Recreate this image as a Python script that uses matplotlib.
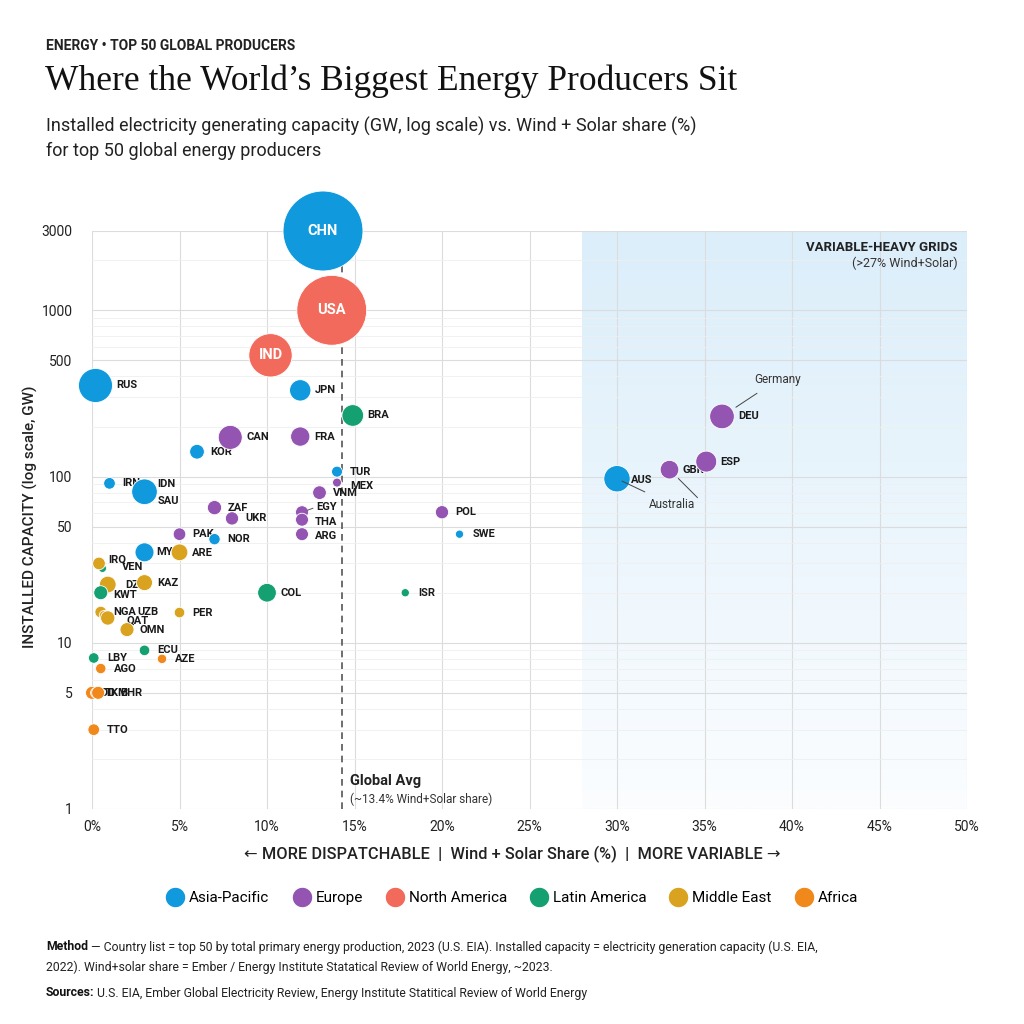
import numpy as np
import matplotlib.pyplot as plt
from matplotlib.colors import LinearSegmentedColormap
from matplotlib.lines import Line2D
from matplotlib.ticker import NullFormatter, LogLocator

plt.rcParams['font.family'] = ['Roboto', 'DejaVu Sans']

# Data
codes = ['CHN', 'USA', 'IND', 'RUS', 'JPN', 'BRA', 'CAN', 'FRA', 'KOR', 'TUR',
         'MEX', 'VNM', 'IRN', 'SAU', 'IDN', 'ZAF', 'UKR', 'EGY', 'THA', 'ARG',
         'POL', 'SWE', 'PAK', 'NOR', 'MYS', 'ARE', 'VEN', 'IRQ', 'DZA', 'KAZ',
         'KWT', 'COL', 'ISR', 'NGA', 'UZB', 'QAT', 'OMN', 'PER', 'LBY', 'AGO',
         'ECU', 'AZE', 'COD', 'BHR', 'TKM', 'TTO', 'DEU', 'ESP', 'GBR', 'AUS']
wind_solar = [13.2, 13.7, 10.2, 0.2, 11.9, 14.9, 7.9, 11.9, 6.0, 14.0,
              14.0, 13.0, 1.0, 3.0, 3.0, 7.0, 8.0, 12.0, 12.0, 12.0,
              20.0, 21.0, 5.0, 7.0, 3.0, 5.0, 0.6, 0.4, 0.9, 3.0,
              0.5, 10.0, 17.9, 0.5, 0.7, 0.9, 2.0, 5.0, 0.1, 0.5,
              3.0, 4.0, 0.0, 0.2, 0.35, 0.1, 36.0, 35.1, 33.0, 30.0]
capacity_gw = [3000, 1000, 536, 353, 330, 233, 172, 174, 141, 107,
               92, 80, 91, 80, 81, 65, 56, 61, 55, 45,
               61, 45, 45, 42, 35, 35, 28, 30, 22.4, 23,
               20, 20, 20, 15.3, 14.6, 14.1, 12.0, 15.2, 8.1, 7.0,
               9.0, 8.0, 5.0, 5.0, 5.0, 3.0, 230, 123, 110, 97]
production = [160, 122, 47, 29, 11.4, 11.7, 14.4, 9.3, 5.4, 3.0,
              2.0, 4.7, 3.4, 9.0, 16.4, 5.1, 4.4, 4.2, 4.2, 4.2,
              4.4, 1.7, 4.0, 3.2, 9.0, 7.0, 1.6, 4.0, 7.0, 6.4,
              4.9, 8.7, 1.7, 3.4, 2.5, 5.1, 4.9, 2.8, 2.8, 2.7,
              2.8, 2.2, 4.2, 2.5, 4.2, 3.4, 15.2, 11.0, 8.7, 17.4]
regions = ['AP', 'NA', 'NA', 'AP', 'AP', 'LA', 'EU', 'EU', 'AP', 'AP',
           'EU', 'EU', 'AP', 'ME', 'AP', 'EU', 'EU', 'EU', 'EU', 'EU',
           'EU', 'AP', 'EU', 'AP', 'AP', 'ME', 'LA', 'ME', 'ME', 'ME',
           'LA', 'LA', 'LA', 'ME', 'ME', 'ME', 'ME', 'ME', 'LA', 'AF',
           'LA', 'AF', 'AF', 'AF', 'AF', 'AF', 'EU', 'EU', 'EU', 'AP']

region_names = {'AP': 'Asia-Pacific', 'EU': 'Europe', 'NA': 'North America',
                'LA': 'Latin America', 'ME': 'Middle East', 'AF': 'Africa'}
region_colors = {'AP': '#1199de', 'EU': '#9455b2', 'NA': '#f26a5b',
                 'LA': '#14a071', 'ME': '#d9a31f', 'AF': '#f0881c'}

global_avg = 14.3

# label tweaks (pixel offsets from dot centre, image y down)
label_offsets = {
    'IDN': (13, -8), 'SAU': (13, 8), 'IRQ': (9, -4), 'VEN': (19, -1),
    'DZA': (17, 0), 'KWT': (12, 2), 'NGA': (12, 0), 'UZB': (33, -3),
    'QAT': (19, 3), 'COD': (1, 0), 'TKM': (7, 0), 'BHR': (25, 0),
    'EGY': (14, -5), 'THA': (13, 2), 'ARG': (13, 2), 'MEX': (13, 3),
    'ARE': (12, 1), 'AUS': (14, 1), 'MYS': (12, 0),
}
inside = ['CHN', 'USA', 'IND']

PX = 0.72  # points per pixel at dpi 100

fig = plt.figure(figsize=(10.24, 10.24), dpi=100)
ax = fig.add_axes([92 / 1024, 1 - 809 / 1024, 875 / 1024, 578 / 1024])

ax.set_yscale('log')

# shaded "variable-heavy" zone
cmap = LinearSegmentedColormap.from_list('shade', ['#dbeefa', '#fbfdff'])
grad = np.linspace(0, 1, 256).reshape(-1, 1)
ax.imshow(grad, extent=(28, 50, 0, 1), transform=ax.get_xaxis_transform(),
          aspect='auto', cmap=cmap, origin='upper', zorder=0)

ax.set_xlim(0, 50)
ax.set_ylim(1, 3000)

ax.set_xticks(np.arange(0, 51, 5))
ax.set_xticklabels([f'{v}%' for v in range(0, 51, 5)])
yt = [1, 5, 10, 50, 100, 500, 1000, 3000]
ax.set_yticks(yt)
ax.set_yticklabels([str(v) for v in yt])
ax.yaxis.set_minor_locator(LogLocator(base=10, subs=np.arange(2, 10)))
ax.yaxis.set_minor_formatter(NullFormatter())
ax.tick_params(axis='both', which='both', length=0, labelsize=10, colors='#222222')
ax.tick_params(axis='x', pad=8)
ax.tick_params(axis='y', pad=14)
ax.grid(True, which='major', color='#dcdcdc', lw=0.8, zorder=0)
ax.grid(True, which='minor', axis='y', color='#efefef', lw=0.6, zorder=0)
ax.set_axisbelow(True)
for s in ax.spines.values():
    s.set_visible(False)

# global average line
ax.axvline(global_avg, color='#555555', lw=1.2, ls=(0, (4, 3)), zorder=1)
ax.text(global_avg + 0.45, 1.47, 'Global Avg', fontsize=10.5, weight='bold',
        color='#222222', va='center', ha='left')
ax.text(global_avg + 0.45, 1.15, '(~13.4% Wind+Solar share)', fontsize=8.5,
        color='#333333', va='center', ha='left')

ax.text(49.45, 2400, 'VARIABLE-HEAVY GRIDS', fontsize=9.5, weight='bold',
        color='#222222', ha='right', va='center')
ax.text(49.45, 1920, '(>27% Wind+Solar)', fontsize=9, color='#333333',
        ha='right', va='center')

# bubbles
sizes = [p * 20.7 for p in production]
cols = [region_colors[r] for r in regions]
ax.scatter(wind_solar, capacity_gw, s=sizes, c=cols, edgecolors='white',
           linewidths=0.6, zorder=3, clip_on=False)

for code, x, y, p in zip(codes, wind_solar, capacity_gw, production):
    r = np.sqrt(p * 10)
    if code in inside:
        ax.text(x, y, code, color='white', fontsize=10.5, weight='bold',
                ha='center', va='center', zorder=4)
        continue
    dx, dy = label_offsets.get(code, (max(r + 4, 13), 0))
    ax.annotate(code, (x, y), xytext=(dx * PX, -dy * PX), textcoords='offset points',
                fontsize=8, weight='bold', color='#1a1a1a', ha='left', va='center',
                zorder=2)

# leader line for EGY
i = codes.index('EGY')
ax.annotate('', (wind_solar[i], capacity_gw[i]), xytext=(11 * PX, 4 * PX),
            textcoords='offset points',
            arrowprops=dict(arrowstyle='-', color='#555555', lw=0.7, shrinkA=0, shrinkB=4))

# callouts
i = codes.index('DEU')
ax.annotate('Germany', (wind_solar[i], capacity_gw[i]), xytext=(56 * PX, 37 * PX),
            textcoords='offset points', fontsize=8.5, color='#333333',
            ha='center', va='center',
            arrowprops=dict(arrowstyle='-', color='#444444', lw=0.7, shrinkA=6, shrinkB=12))
i = codes.index('AUS')
ax.annotate('Australia', (wind_solar[i], capacity_gw[i]), xytext=(55 * PX, -26 * PX),
            textcoords='offset points', fontsize=8.5, color='#333333',
            ha='center', va='center',
            arrowprops=dict(arrowstyle='-', color='#444444', lw=0.7, shrinkA=6, shrinkB=4))
i = codes.index('GBR')
ax.annotate('', (wind_solar[i], capacity_gw[i]), xytext=(28 * PX, -28 * PX),
            textcoords='offset points',
            arrowprops=dict(arrowstyle='-', color='#444444', lw=0.7, shrinkA=0, shrinkB=9))

# header
fig.text(46 / 1024, 1 - 46 / 1024, 'ENERGY • TOP 50 GLOBAL PRODUCERS', fontsize=10,
         weight='bold', color='#222222', va='center')
fig.text(45 / 1024, 1 - 81 / 1024, 'Where the World’s Biggest Energy Producers Sit',
         family=['Liberation Serif', 'DejaVu Serif'], fontsize=25.5, color='#111111',
         va='center')
fig.text(46 / 1024, 1 - 126 / 1024,
         'Installed electricity generating capacity (GW, log scale) vs. Wind + Solar share (%)',
         fontsize=13, color='#222222', va='center')
fig.text(46 / 1024, 1 - 151 / 1024, 'for top 50 global energy producers',
         fontsize=13, color='#222222', va='center')

# axis labels
fig.text(30 / 1024, 1 - 517 / 1024, 'INSTALLED CAPACITY (log scale, GW)', rotation=90,
         fontsize=11, color='#222222', ha='center', va='center', weight='medium')
fig.text(0.5, 1 - 854 / 1024,
         '← MORE DISPATCHABLE  |  Wind + Solar Share (%)  |  MORE VARIABLE →',
         fontsize=11.8, color='#222222', ha='center', va='center', weight='medium')

# legend
handles = [Line2D([], [], marker='o', ls='', markersize=15, markerfacecolor=region_colors[k],
                  markeredgecolor='white', label=region_names[k])
           for k in ['AP', 'EU', 'NA', 'LA', 'ME', 'AF']]
fig.legend(handles=handles, loc='center', bbox_to_anchor=(0.5, 1 - 898 / 1024), ncol=6,
           frameon=False, fontsize=11, handletextpad=0.3, handlelength=1.2,
           columnspacing=1.5)

# footer
fig.canvas.draw()
renderer = fig.canvas.get_renderer()


def rich_line(x, y, bold, rest, size):
    t = fig.text(x, y, bold, fontsize=size, weight='bold', color='#111111', va='center')
    bb = t.get_window_extent(renderer)
    fig.text(bb.x1 / 1024, y, rest, fontsize=size, color='#222222', va='center')


rich_line(46 / 1024, 1 - 947 / 1024, 'Method',
          ' — Country list = top 50 by total primary energy production, 2023 (U.S. EIA). '
          'Installed capacity = electricity generation capacity (U.S. EIA,', 8.8)
fig.text(46 / 1024, 1 - 967 / 1024,
         '2022). Wind+solar share = Ember / Energy Institute Statatical Review of World Energy, ~2023.',
         fontsize=8.8, color='#222222', va='center')
rich_line(46 / 1024, 1 - 993 / 1024, 'Sources:',
          ' U.S. EIA, Ember Global Electricity Review, Energy Institute Statitical Review of World Energy', 8.8)

fig.savefig('out.png', dpi=100, facecolor='white')
